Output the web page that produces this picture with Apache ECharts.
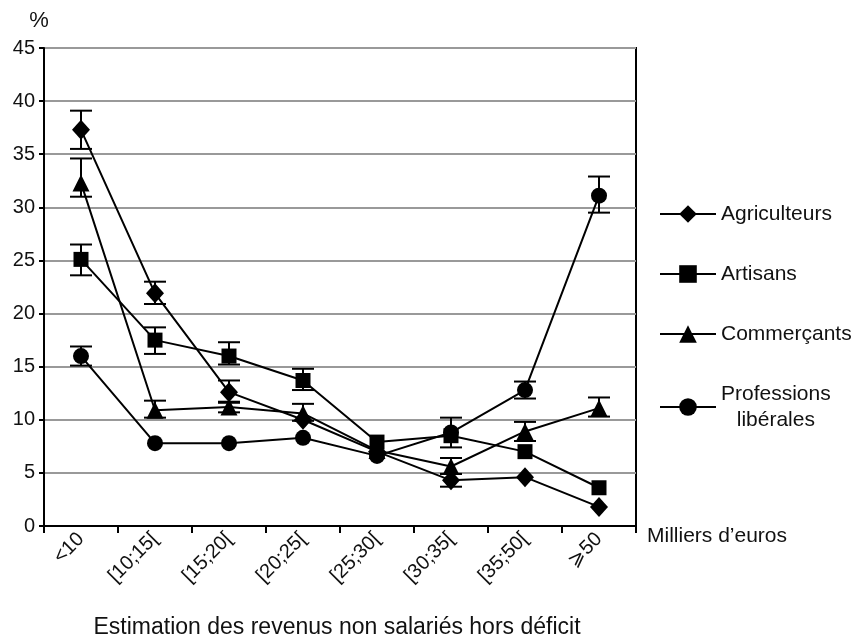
<!DOCTYPE html>
<html>
<head>
<meta charset="utf-8">
<script src="https://cdn.jsdelivr.net/npm/echarts@6/dist/echarts.min.js"></script>
<style>
html,body{margin:0;padding:0;background:#fff;}
#chart{width:864px;height:639px;}
</style>
</head>
<body>
<div id="chart"></div>
<script>
var categories = ['<10', '[10;15[', '[15;20[', '[20;25[', '[25;30[', '[30;35[', '[35;50[', '\u2A7E50'];
var seriesNames = ['Agriculteurs', 'Artisans', 'Commerçants', 'Professions libérales'];
var agriculteurs = [37.3, 21.9, 12.6, 10.0, 7.0, 4.3, 4.6, 1.8];
var artisans = [25.1, 17.5, 16.0, 13.7, 7.9, 8.5, 7.0, 3.6];
var commercants = [32.3, 10.9, 11.2, 10.6, 7.1, 5.6, 8.9, 11.1];
var professions = [16.0, 7.8, 7.8, 8.3, 6.6, 8.8, 12.8, 31.1];
// error bars [low, high], null where not visible
var agriErr = [[35.5, 39.1], [20.9, 23.0], [11.6, 13.7], null, null, [3.7, 4.9], null, null];
var artiErr = [[23.6, 26.5], [16.2, 18.7], [15.2, 17.3], [12.8, 14.8], null, null, null, null];
var commErr = [[31.0, 34.6], [10.2, 11.8], [10.7, 11.7], [9.9, 11.5], null, [4.9, 6.4], [8.0, 9.8], [10.3, 12.1]];
var profErr = [[15.1, 16.9], null, null, null, null, [7.4, 10.2], [12.0, 13.6], [29.5, 32.9]];
var yTicks = [0, 5, 10, 15, 20, 25, 30, 35, 40, 45];

var FONT = 'Liberation Sans, Arial, sans-serif';

function errData(arr) {
  var out = [];
  arr.forEach(function (e, i) { if (e) out.push([i, e[0], e[1]]); });
  return out;
}
function errSeries(arr) {
  return {
    type: 'custom',
    silent: true,
    z: 5,
    data: errData(arr),
    encode: { x: 0, y: [1, 2] },
    renderItem: function (params, api) {
      var i = api.value(0);
      var lo = api.coord([i, api.value(1)]);
      var hi = api.coord([i, api.value(2)]);
      var hw = 11;
      var st = { stroke: '#000', lineWidth: 2 };
      return {
        type: 'group',
        children: [
          { type: 'line', shape: { x1: lo[0], y1: lo[1], x2: hi[0], y2: hi[1] }, style: st },
          { type: 'line', shape: { x1: lo[0] - hw, y1: lo[1], x2: lo[0] + hw, y2: lo[1] }, style: st },
          { type: 'line', shape: { x1: hi[0] - hw, y1: hi[1], x2: hi[0] + hw, y2: hi[1] }, style: st }
        ]
      };
    }
  };
}
function lineSeries(name, data, symbol, size, z) {
  return {
    name: name, type: 'line', data: data,
    symbol: symbol, symbolSize: size, showSymbol: true,
    itemStyle: { color: '#000' },
    lineStyle: { color: '#000', width: 2 },
    z: z
  };
}

var chart = echarts.init(document.getElementById('chart'));
chart.setOption({
  animation: false,
  backgroundColor: '#fff',
  textStyle: { fontFamily: FONT },
  grid: { left: 44, right: 228, top: 48, bottom: 113, show: true, borderColor: '#000', borderWidth: 2, backgroundColor: 'transparent' },
  title: {
    text: 'Estimation des revenus non salariés hors déficit',
    left: 332, textAlign: 'center', top: 611,
    textStyle: { fontFamily: FONT, fontSize: 23, fontWeight: 'normal', color: '#111' }
  },
  legend: {
    orient: 'vertical', left: 654, top: 196,
    itemWidth: 56, itemHeight: 22, itemGap: 34,
    data: seriesNames,
    formatter: function (n) {
      return n === 'Professions libérales' ? '{c|Professions}\n{c|libérales}' : n;
    },
    textStyle: {
      fontFamily: FONT, fontSize: 21, color: '#111', lineHeight: 26,
      rich: { c: { align: 'center', fontSize: 21, fontFamily: FONT, lineHeight: 26 } }
    }
  },
  xAxis: {
    type: 'category', data: categories, boundaryGap: true,
    name: 'Milliers d\u2019euros', nameLocation: 'end', nameGap: 11,
    nameTextStyle: { fontFamily: FONT, fontSize: 21, color: '#111', verticalAlign: 'top', padding: [0, 0, 0, 0] },
    axisLine: { lineStyle: { color: '#000', width: 2 } },
    axisTick: { show: true, alignWithLabel: false, length: 7, lineStyle: { color: '#000', width: 2 } },
    axisLabel: { rotate: 45, fontFamily: FONT, fontSize: 20, color: '#111', margin: 10 },
    splitLine: { show: false }
  },
  yAxis: {
    type: 'value', min: 0, max: 45, interval: 5,
    name: '%', nameLocation: 'end', nameGap: 16,
    nameTextStyle: { fontFamily: FONT, fontSize: 22, color: '#111', align: 'center', padding: [0, 10, 0, 0] },
    axisLine: { show: true, lineStyle: { color: '#000', width: 2 } },
    axisTick: { show: true, length: 5, lineStyle: { color: '#000', width: 2 } },
    axisLabel: {
      fontFamily: FONT, fontSize: 20, color: '#111', margin: 9,
      formatter: function (v) { return yTicks.indexOf(v) >= 0 ? String(v) : ''; }
    },
    splitLine: { show: true, lineStyle: { color: '#999', width: 2 } }
  },
  series: [
    lineSeries(seriesNames[0], agriculteurs, 'diamond', [18, 20], 3),
    lineSeries(seriesNames[1], artisans, 'rect', 15, 3),
    lineSeries(seriesNames[2], commercants, 'triangle', 17, 3),
    lineSeries(seriesNames[3], professions, 'circle', 16, 4),
    errSeries(agriErr),
    errSeries(artiErr),
    errSeries(commErr),
    errSeries(profErr)
  ]
});
</script>
</body>
</html>
